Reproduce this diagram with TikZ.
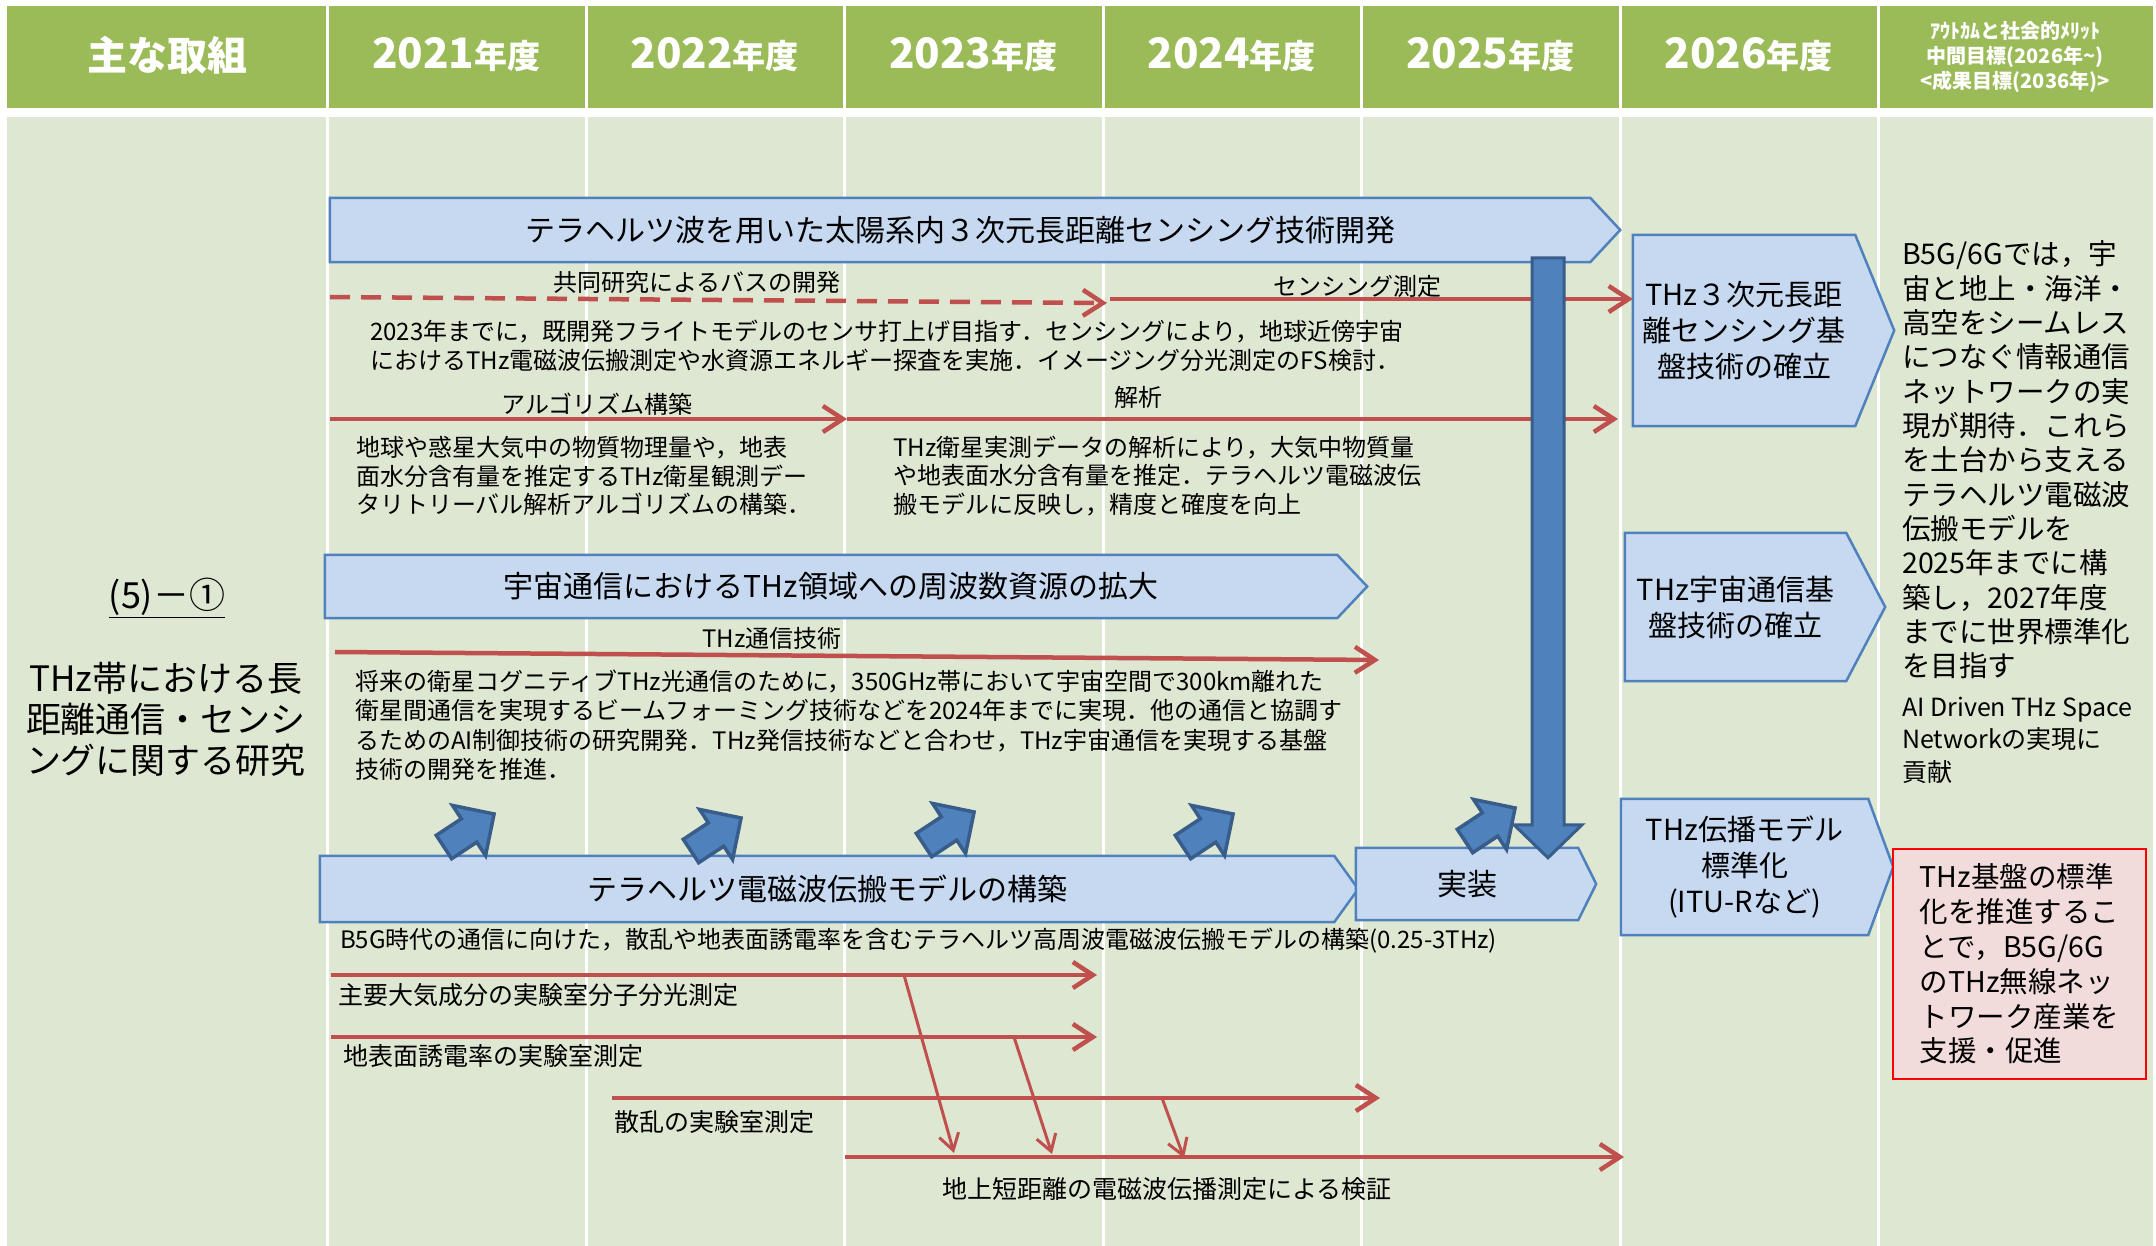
\documentclass[tikz,border=0pt]{standalone}
\usepackage{fontspec}
\setmainfont{Noto Sans CJK JP}
\usetikzlibrary{arrows.meta, calc, backgrounds}

\definecolor{headgreen}{HTML}{9BBB59}
\definecolor{cellgreen}{HTML}{DEE7D1}
\definecolor{stageblue}{HTML}{C6D9F1}
\definecolor{stageline}{HTML}{4F81BD}
\definecolor{arrowblue}{HTML}{4F81BD}
\definecolor{arrowdark}{HTML}{385D8A}
\definecolor{flowred}{HTML}{C0504D}
\definecolor{goalpink}{HTML}{F2DCDB}

\pgfdeclarelayer{cells}
\pgfsetlayers{cells,background,main}

\newcommand\fhead{\fontsize{40}{44}\selectfont\bfseries}
\newcommand\fyear{\fontsize{42}{46}\selectfont}
\newcommand\fnendo{\fontsize{33}{46}\selectfont}
\newcommand\fsubhead{\fontsize{20}{25}\selectfont\bfseries}
\newcommand\fnum{\fontsize{36}{40}\selectfont}
\newcommand\ftopic{\fontsize{35}{41}\selectfont}
\newcommand\fstage{\fontsize{30}{36}\selectfont}
\newcommand\fgoal{\fontsize{29}{36}\selectfont}
\newcommand\fpara{\fontsize{24}{28.5}\selectfont}
\newcommand\fparaB{\fontsize{24}{29.5}\selectfont}
\newcommand\flab{\fontsize{25}{30}\selectfont}
\newcommand\fnote{\fontsize{28.5}{34.33}\selectfont}
\newcommand\fnoteS{\fontsize{25}{32.5}\selectfont}
\newcommand\ftarget{\fontsize{28.5}{34.8}\selectfont}

\newcommand\stageshape[2]{%
  \filldraw[stagefill] (#1.north west) -- (#1.north east) -- ($(#1.east)+(#2,0)$)
    -- (#1.south east) -- (#1.south west) -- cycle;}
\newcommand\nudge[1]{%
  \filldraw[smallarrow, shift={#1}, rotate=33.4] (0,14) -- (30,14) -- (30,30) -- (60,0)
    -- (30,-30) -- (30,-14) -- (0,-14) -- cycle;}

\begin{document}
\begin{tikzpicture}[x=1pt, y=-1pt,
    headtext/.style={text=white, font=\fhead, align=center, inner sep=0pt},
    stage/.style={inner sep=0pt, align=center, font=\fstage},
    goal/.style={inner sep=0pt, align=center, font=\fgoal},
    stagefill/.style={fill=stageblue, draw=stageline, line width=2.5pt, line join=miter},
    target/.style={draw=red, line width=2.5pt, fill=goalpink, minimum width=253pt, minimum height=230pt, align=left, font=\ftarget},
    para/.style={anchor=west, align=left, inner sep=0pt, font=\fpara},
    lbl/.style={inner sep=0pt, font=\fpara},
    flow/.style={draw=flowred, line width=4.5pt, -{Straight Barb[length=20pt, width=26pt]}},
    dashflow/.style={flow, dash pattern=on 20pt off 11pt},
    branch/.style={draw=flowred, line width=3pt, -{Straight Barb[length=16pt, width=20pt]}},
    bigarrow/.style={fill=arrowblue, draw=arrowdark, line width=3pt, line join=miter},
    smallarrow/.style={fill=arrowblue, draw=arrowdark, line width=3.5pt, line join=miter}
  ]
  \useasboundingbox (0,0) rectangle (2156,1246);

  \begin{pgfonlayer}{cells}
    \fill[white] (0,0) rectangle (2156,1246);
    \fill[headgreen] (7,6) rectangle (2153,108);
    \fill[cellgreen] (7,117) rectangle (2153,1246);
    \foreach \x in {327,586,844,1103,1361,1620,1878}
      \draw[white, line width=3pt] (\x,0) -- (\x,1246);
  \end{pgfonlayer}

  \node[headtext] (hdrMain) at (167,55) {主な取組};
  \foreach \yr [count=\i] in {2021,...,2026}
    \node[headtext] (hdr\yr) at ({327+258.5*(\i-0.5)},55) {{\fyear\yr}{\fnendo 年度}};
  \node[headtext, font=\fsubhead] (hdrOutcome) at (2015,57) {ｱｳﾄｶﾑと社会的ﾒﾘｯﾄ\\中間目標(2026年\string~)\\<成果目標(2036年)>};

  \node[font=\fnum] (topicNo) at (167,598) {\underline{(5)－①}};
  \node[font=\ftopic, align=center] (topic) at (166,719) {THz帯における長\\距離通信・センシ\\ングに関する研究};

  \node[stage, minimum width=1260pt, minimum height=64pt] (sensDev) at (960,230) {テラヘルツ波を用いた太陽系内３次元長距離センシング技術開発};
  \node[stage, minimum width=1012pt, minimum height=63pt] (commExp) at (831,586.5) {宇宙通信におけるTHz領域への周波数資源の拡大};
  \node[stage, minimum width=1014pt, minimum height=66pt] (propModel) at (827,889) {テラヘルツ電磁波伝搬モデルの構築};
  \node[stage, minimum width=222pt, minimum height=72pt] (impl) at (1467,884) {実装};
  \node[goal, minimum width=222pt, minimum height=191pt] (goalSense) at (1744,330.5) {THz３次元長距\\離センシング基\\盤技術の確立};
  \node[goal, minimum width=221pt, minimum height=148pt] (goalComm) at (1735.5,607) {THz宇宙通信基\\盤技術の確立};
  \node[goal, minimum width=247pt, minimum height=136pt] (goalStd) at (1744.5,867) {THz伝播モデル\\標準化\\(ITU-Rなど)};
  \node[target] (goalImpact) at (2019.5,964) {THz基盤の標準\\化を推進するこ\\とで，B5G/6G\\のTHz無線ネッ\\トワーク産業を\\支援・促進};

  \begin{scope}[on background layer]
    \stageshape{sensDev}{30}
    \stageshape{commExp}{30}
    \stageshape{propModel}{24}
    \stageshape{impl}{18}
    \stageshape{goalSense}{39}
    \stageshape{goalComm}{39}
    \stageshape{goalStd}{25}
  \end{scope}

  \node[para, font=\fnote] (outcome) at (1902,460) {B5G/6Gでは，宇\\宙と地上・海洋・\\高空をシームレス\\につなぐ情報通信\\ネットワークの実\\現が期待．これら\\を土台から支える\\テラヘルツ電磁波\\伝搬モデルを\\2025年までに構\\築し，2027年度\\までに世界標準化\\を目指す};
  \node[para, font=\fnoteS] (aiNote) at (1902,740) {AI Driven THz Space\\Networkの実現に\\貢献};

  \node[para] (busNote) at (370,346) {2023年までに，既開発フライトモデルのセンサ打上げ目指す．センシングにより，地球近傍宇宙\\におけるTHz電磁波伝搬測定や水資源エネルギー探査を実施．イメージング分光測定のFS検討．};
  \node[para] (algNote) at (356,476) {地球や惑星大気中の物質物理量や，地表\\面水分含有量を推定するTHz衛星観測デー\\タリトリーバル解析アルゴリズムの構築．};
  \node[para] (anaNote) at (893,476) {THz衛星実測データの解析により，大気中物質量\\や地表面水分含有量を推定．テラヘルツ電磁波伝\\搬モデルに反映し，精度と確度を向上};
  \node[para, font=\fparaB] (commNote) at (355,725) {将来の衛星コグニティブTHz光通信のために，350GHz帯において宇宙空間で300km離れた\\衛星間通信を実現するビームフォーミング技術などを2024年までに実現．他の通信と協調す\\るためのAI制御技術の研究開発．THz発信技術などと合わせ，THz宇宙通信を実現する基盤\\技術の開発を推進．};
  \node[para] (modelNote) at (340,941) {B5G時代の通信に向けた，散乱や地表面誘電率を含むテラヘルツ高周波電磁波伝搬モデルの構築(0.25-3THz)};

  \node[lbl] (busLbl) at (697,282) {共同研究によるバスの開発};
  \node[lbl] (senseLbl) at (1357,286) {センシング測定};
  \node[lbl] (algLbl) at (597,404) {アルゴリズム構築};
  \node[lbl] (anaLbl) at (1138,397) {解析};
  \node[lbl] (commLbl) at (772,638) {THz通信技術};
  \node[lbl, anchor=west, font=\flab] (specLbl) at (338,995) {主要大気成分の実験室分子分光測定};
  \node[lbl, anchor=west, font=\flab] (soilLbl) at (343,1056) {地表面誘電率の実験室測定};
  \node[lbl, anchor=west, font=\flab] (scatLbl) at (614,1122) {散乱の実験室測定};
  \node[lbl, font=\flab] (fieldLbl) at (1167,1189) {地上短距離の電磁波伝播測定による検証};

  \coordinate (busStart) at (330,297);
  \coordinate (busEnd) at (1107,303);
  \coordinate (senseStart) at (1110,299);
  \coordinate (algStart) at (330,419);
  \coordinate (algEnd) at (847,419);
  \coordinate (anaEnd) at (1618,419);
  \coordinate (commStart) at (335,652);
  \coordinate (commEnd) at (1379,660);
  \coordinate (specStart) at (331,975);
  \coordinate (specEnd) at (1097,975);
  \coordinate (soilStart) at (331,1037);
  \coordinate (soilEnd) at (1097,1037);
  \coordinate (scatStart) at (612,1098);
  \coordinate (scatEnd) at (1380,1098);
  \coordinate (fieldStart) at (845,1157);
  \coordinate (fieldEnd) at (1624,1157);
  \coordinate (specOut) at (904,975);
  \coordinate (soilOut) at (1014,1037);
  \coordinate (scatOut) at (1162,1098);
  \coordinate (fieldIn1) at (954,1153);
  \coordinate (fieldIn2) at (1052,1154);
  \coordinate (fieldIn3) at (1184,1158);

  \draw[dashflow] (busStart) -- (busEnd);
  \draw[flow] (senseStart) -- (goalSense.west |- senseStart);
  \draw[flow] (algStart) -- (algEnd);
  \draw[flow] (algEnd) -- (anaEnd);
  \draw[flow] (commStart) -- (commEnd);
  \draw[flow] (specStart) -- (specEnd);
  \draw[flow] (soilStart) -- (soilEnd);
  \draw[flow] (scatStart) -- (scatEnd);
  \draw[flow] (fieldStart) -- (fieldEnd);
  \draw[branch] (specOut) -- (fieldIn1);
  \draw[branch] (soilOut) -- (fieldIn2);
  \draw[branch] (scatOut) -- (fieldIn3);

  \coordinate (dropTop) at (1548,258);
  \coordinate (dropTip) at ($(dropTop |- impl.north)+(0,10)$);
  \filldraw[bigarrow] ($(dropTop)+(-16,0)$) -- ($(dropTop)+(16,0)$) -- ($(dropTip)+(16,-33)$)
    -- ($(dropTip)+(34,-33)$) -- (dropTip) -- ($(dropTip)+(-34,-33)$) -- ($(dropTip)+(-16,-33)$) -- cycle;

  \foreach \x/\y in {444/847, 691/851, 924/845, 1183/847, 1465/841}
    \nudge{(\x,\y)};
\end{tikzpicture}
\end{document}
